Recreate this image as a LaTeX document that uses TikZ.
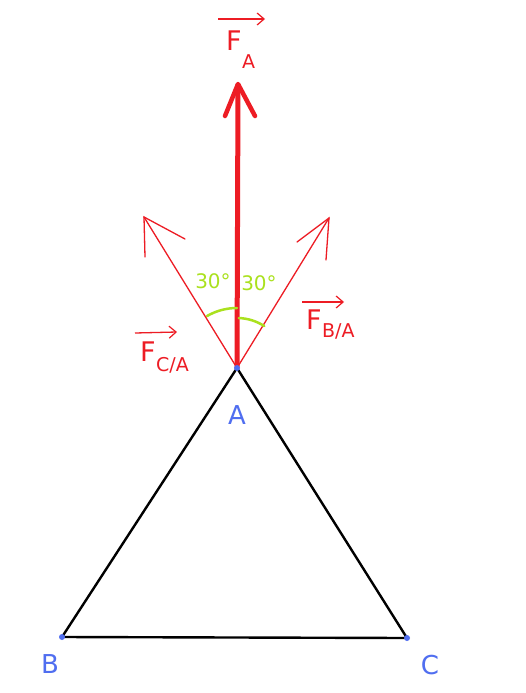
\documentclass[tikz,border=0pt]{standalone}
\usepackage{fontspec}
\setmainfont{DejaVu Sans}
\usetikzlibrary{arrows.meta}
\definecolor{pred}{RGB}{237,28,36}
\definecolor{pblue}{RGB}{80,110,240}
\definecolor{plime}{RGB}{170,225,30}
\begin{document}
\begin{tikzpicture}[x=1pt,y=-1pt,
  thinred/.style={pred,line width=1.3pt,line cap=round},
  vec/.style={pred,line width=1.3pt,-{Straight Barb[length=7pt,width=12pt,line width=1.2pt]}},
  lbl/.style={inner sep=0pt,anchor=center},
  ptlbl/.style={lbl,pblue,font=\fontsize{26}{26}\selectfont},
  angl/.style={lbl,plime,font=\fontsize{20}{20}\selectfont},
  bigF/.style={lbl,pred,font=\fontsize{27}{27}\selectfont},
  subF/.style={inner sep=0pt,anchor=west,pred,font=\fontsize{19}{19}\selectfont}]
\useasboundingbox (0,0) rectangle (525,693);
\fill[white] (0,0) rectangle (525,693);
% points
\coordinate (A) at (237,368);
\coordinate (B) at (62,637);
\coordinate (C) at (407,638);
% triangle
\draw[black,line width=2.4pt,line join=miter] (A) -- (B) -- (C) -- cycle;
% F_A
\coordinate (FAtip) at (238,84);
\coordinate (FAl) at (225,116);
\coordinate (FAr) at (255,116);
\draw[pred,line width=5pt] (A) -- (FAtip);
\draw[pred,line width=4.5pt,line cap=round,line join=round] (FAl) -- (FAtip) -- (FAr);
% F_C/A
\coordinate (FCtip) at (144,217);
\coordinate (FCh1) at (185,239);
\coordinate (FCh2) at (145,257);
\draw[thinred] (A) -- (FCtip);
\draw[thinred] (FCh1) -- (FCtip) -- (FCh2);
% F_B/A
\coordinate (FBtip) at (329,218);
\coordinate (FBh1) at (297,242);
\coordinate (FBh2) at (326,260);
\draw[thinred] (A) -- (FBtip);
\draw[thinred] (FBh1) -- (FBtip) -- (FBh2);
% angle arcs
\draw[plime,line width=2.5pt,line cap=round] (A) ++(-120:60) arc[start angle=-120,end angle=-90,radius=60];
\draw[plime,line width=2.5pt,line cap=round] (A) ++(-88:50) arc[start angle=-88,end angle=-57,radius=50];
\node[angl] (ang1) at (213,281) {30°};
\node[angl] (ang2) at (259,283) {30°};
% dots
\fill[pblue] (A) circle (3pt);
\fill[pblue] (B) circle (3pt);
\fill[pblue] (C) circle (3pt);
% point labels
\node[ptlbl] (la) at (237,415) {A};
\node[ptlbl] (lb) at (50,664) {B};
\node[ptlbl] (lc) at (430,665) {C};
% force labels
\node[bigF] (fa) at (234,41) {F};
\node[subF] (fasub) at (242,62) {A};
\coordinate (faa1) at (218,19);
\coordinate (faa2) at (265,19);
\draw[vec] (faa1) -- (faa2);
\node[bigF] (fc) at (148,352) {F};
\node[subF] (fcsub) at (156,365) {C/A};
\coordinate (fca1) at (135,333);
\coordinate (fca2) at (177,332);
\draw[vec] (fca1) -- (fca2);
\node[bigF] (fb) at (314,320) {F};
\node[subF] (fbsub) at (322,331) {B/A};
\coordinate (fba1) at (302,302);
\coordinate (fba2) at (344,302);
\draw[vec] (fba1) -- (fba2);
\end{tikzpicture}
\end{document}
